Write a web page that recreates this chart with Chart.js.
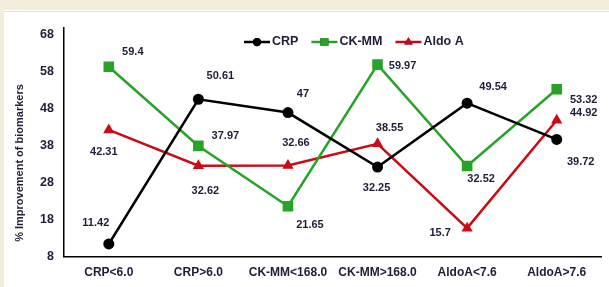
<!DOCTYPE html>
<html>
<head>
<meta charset="utf-8">
<script src="https://cdn.jsdelivr.net/npm/chart.js@4.4.1/dist/chart.umd.min.js"></script>
<style>
  html, body { margin: 0; padding: 0; width: 609px; height: 287px; overflow: hidden; background: #f3eedc; }
  #wrap { position: absolute; left: 4px; top: 10px; width: 605px; height: 277px; background: #fff; overflow: hidden; }
  #topline { position: absolute; left: 4px; top: 11px; width: 605px; height: 1px; background: #e0e0e0; }
  canvas { display: block; }
</style>
</head>
<body>
<div id="wrap"><canvas id="chart" width="605" height="277"></canvas></div>
<div id="topline"></div>
<script>
  const categories = ['CRP<6.0', 'CRP>6.0', 'CK-MM<168.0', 'CK-MM>168.0', 'AldoA<7.6', 'AldoA>7.6'];
  const crp   = [11.42, 50.61, 47, 32.25, 49.54, 39.72];
  const ckmm  = [59.4, 37.97, 21.65, 59.97, 32.52, 53.32];
  const aldoA = [42.31, 32.62, 32.66, 38.55, 15.7, 44.92];
  const yTicks = [8, 18, 28, 38, 48, 58, 68];

  // where each value label sits relative to its point (px)
  const labelOffsets = [
    [[-13,-21],[22,-23],[15,-19],[-1,21],[26,-16],[24,23]],
    [[24,-15],[27,-10],[22,19],[25,1],[14,13],[27,11]],
    [[-5,22],[7,25],[8,-23],[12,-16],[-27,5],[27,-7]]
  ];

  const FONT = "'Liberation Sans', Arial, sans-serif";
  const TEXT = '#1e1e38';

  // value labels next to the points
  const valueLabels = {
    id: 'valueLabels',
    afterDatasetsDraw(chart) {
      const ctx = chart.ctx;
      ctx.save();
      ctx.font = 'bold 11px ' + FONT;
      ctx.fillStyle = TEXT;
      ctx.textAlign = 'center';
      ctx.textBaseline = 'middle';
      chart.data.datasets.forEach((ds, di) => {
        chart.getDatasetMeta(di).data.forEach((pt, i) => {
          const o = labelOffsets[di][i];
          ctx.fillText(String(ds.data[i]), pt.x + o[0], pt.y + o[1]);
        });
      });
      ctx.restore();
    }
  };

  // line+marker legend and the y axis title
  const extras = {
    id: 'extras',
    afterDraw(chart) {
      const ctx = chart.ctx;
      ctx.save();
      ctx.font = 'bold 12.5px ' + FONT;
      ctx.textBaseline = 'middle';
      let x = 240;
      const y = 32;
      chart.data.datasets.forEach(ds => {
        ctx.strokeStyle = ds.borderColor;
        ctx.lineWidth = 2.5;
        ctx.beginPath();
        ctx.moveTo(x, y);
        ctx.lineTo(x + 26, y);
        ctx.stroke();
        Chart.helpers.drawPoint(ctx, {
          pointStyle: ds.pointStyle, radius: ds.pointRadius * 0.75, rotation: 0, borderWidth: 0
        }, x + 13, y);
        ctx.fillStyle = ds.borderColor;
        ctx.fill();
        ctx.fillStyle = TEXT;
        ctx.textAlign = 'left';
        ctx.fillText(ds.label, x + 28, y);
        x += 28 + ctx.measureText(ds.label).width + 13;
      });

      ctx.translate(16, 153);
      ctx.rotate(-Math.PI / 2);
      ctx.font = 'bold 11px ' + FONT;
      ctx.textAlign = 'center';
      ctx.fillStyle = TEXT;
      ctx.fillText('% Improvement of biomarkers', 0, 0);
      ctx.restore();
    }
  };

  new Chart(document.getElementById('chart'), {
    type: 'line',
    data: {
      labels: categories,
      datasets: [
        { label: 'CRP', data: crp, borderColor: '#000000', backgroundColor: '#000000',
          pointStyle: 'circle', pointRadius: 5.5 },
        { label: 'CK-MM', data: ckmm, borderColor: '#27a427', backgroundColor: '#27a427',
          pointStyle: 'rect', pointRadius: 7.5 },
        { label: 'Aldo A', data: aldoA, borderColor: '#cc0a14', backgroundColor: '#cc0a14',
          pointStyle: 'triangle', pointRadius: 6.5 }
      ]
    },
    options: {
      responsive: false,
      animation: false,
      events: [],
      elements: {
        line: { borderWidth: 2.5, tension: 0 },
        point: { borderWidth: 0, hoverRadius: 0 }
      },
      layout: { padding: { top: 18, right: 3, bottom: -2, left: 0 } },
      plugins: { legend: { display: false }, tooltip: { enabled: false } },
      scales: {
        x: {
          type: 'category',
          offset: true,
          grid: { display: false, drawTicks: false },
          border: { color: '#000', width: 1.5 },
          ticks: { color: TEXT, padding: 9, font: { family: FONT, size: 12, weight: 'bold' } }
        },
        y: {
          min: 8,
          max: 69.9,
          grid: { display: false, drawTicks: false },
          border: { color: '#000', width: 1.5 },
          afterBuildTicks: scale => { scale.ticks = yTicks.map(v => ({ value: v })); },
          afterFit: scale => { scale.width = 60; },
          ticks: { color: TEXT, padding: 10, font: { family: FONT, size: 12.5, weight: 'bold' } }
        }
      }
    },
    plugins: [valueLabels, extras]
  });
</script>
</body>
</html>
